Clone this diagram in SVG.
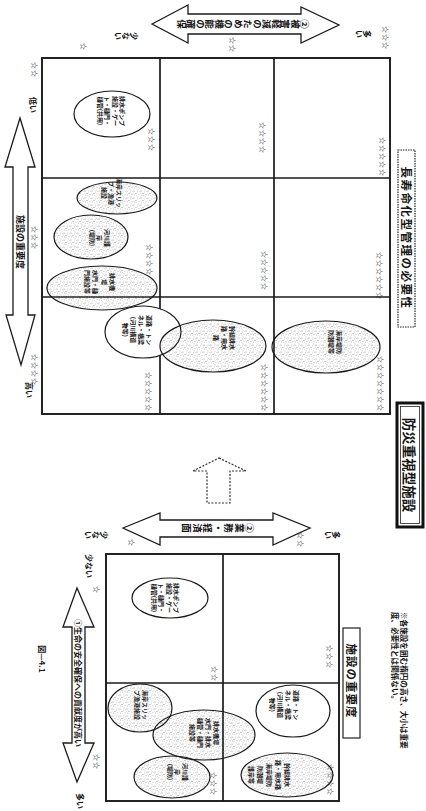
<svg xmlns="http://www.w3.org/2000/svg" width="426" height="811" viewBox="0 0 426 811">
<style>
text{font-family:"Noto Sans CJK JP","Noto Sans",sans-serif;font-weight:bold;fill:#161616}
.grid{fill:none;stroke:#1a1a1a;stroke-width:1.9}
.gl{stroke:#1a1a1a;stroke-width:1.7}
.ew{fill:#fff;stroke:none}
.es{fill:url(#stip);stroke:none}
.eo{fill:none;stroke:#1a1a1a;stroke-width:1.2}
.arr{fill:#fff;stroke:#1a1a1a;stroke-width:1.3;stroke-linejoin:miter}
.dash{fill:none;stroke:#333;stroke-width:1.2;stroke-dasharray:2 1.5}
.st{font-size:7px;letter-spacing:1px}
.et{font-size:6px}
.vr{writing-mode:vertical-rl}
</style>
<defs>
<pattern id="stip" width="7" height="7" patternUnits="userSpaceOnUse">
<circle cx="1" cy="2" r="0.5" fill="#777"/><circle cx="5" cy="1" r="0.45" fill="#888"/><circle cx="3" cy="4.5" r="0.5" fill="#777"/><circle cx="6" cy="5.5" r="0.45" fill="#888"/><circle cx="4.6" cy="3" r="0.4" fill="#999"/><circle cx="1.5" cy="6" r="0.45" fill="#888"/><circle cx="3.8" cy="6.6" r="0.35" fill="#999"/><circle cx="6.6" cy="2.3" r="0.4" fill="#999"/><circle cx="0.4" cy="4" r="0.35" fill="#999"/>
</pattern>
</defs>
<rect width="426" height="811" fill="#fff"/>

<!-- top matrix -->
<g id="top-grid">
<rect class="grid" x="42" y="58" width="348" height="356"/>
<line class="gl" x1="160" y1="58" x2="160" y2="414"/>
<line class="gl" x1="274" y1="58" x2="274" y2="414"/>
<line class="gl" x1="42" y1="178" x2="390" y2="178"/>
<line class="gl" x1="42" y1="297" x2="390" y2="297"/>
</g>

<!-- bottom matrix -->
<g id="bottom-grid">
<rect class="grid" x="106" y="554" width="233" height="247"/>
<line class="gl" x1="223" y1="554" x2="223" y2="801"/>
<line class="gl" x1="106" y1="683" x2="339" y2="683"/>
</g>

<!-- ellipse fills -->
<g id="fills">
<ellipse class="ew" cx="112" cy="114" rx="38" ry="23"/>
<ellipse class="ew" cx="143" cy="332" rx="38" ry="26"/>
<ellipse class="ew" cx="170" cy="598" rx="38" ry="20"/>
<ellipse class="ew" cx="293" cy="711" rx="37" ry="26"/>
<ellipse class="es" cx="117" cy="198" rx="40" ry="16"/>
<ellipse class="es" cx="91" cy="237" rx="37" ry="22"/>
<ellipse class="es" cx="102" cy="288" rx="55" ry="22"/>
<ellipse class="es" cx="213" cy="346" rx="53" ry="26"/>
<ellipse class="es" cx="326" cy="347" rx="54" ry="26"/>
<ellipse class="es" cx="140" cy="708" rx="32" ry="24"/>
<ellipse class="es" cx="204" cy="735" rx="51" ry="25"/>
<ellipse class="es" cx="172" cy="777" rx="38" ry="21"/>
<ellipse class="es" cx="287" cy="775" rx="46" ry="22"/>
</g>

<g id="e1"><ellipse class="eo" cx="112" cy="114" rx="38" ry="23"/>
<text class="et" transform="translate(112,111) rotate(90)" text-anchor="middle" dominant-baseline="central"><tspan x="0" dy="-11">排水ポンプ</tspan><tspan x="0" dy="7.5">施設・ゲー</tspan><tspan x="0" dy="7.5">ト・樋門・</tspan><tspan x="0" dy="7.5">樋管(共用)</tspan></text></g>
<g id="e2"><ellipse class="eo" cx="117" cy="198" rx="40" ry="16"/>
<text class="et" transform="translate(112,193) rotate(90)" text-anchor="middle" dominant-baseline="central"><tspan x="0" dy="-7.5">海岸スリッ</tspan><tspan x="0" dy="7.5">プ・漁港</tspan><tspan x="0" dy="7.5">施設</tspan></text></g>
<g id="e3"><ellipse class="eo" cx="91" cy="237" rx="37" ry="22"/>
<text class="et" transform="translate(100,238) rotate(90)" text-anchor="middle" dominant-baseline="central"><tspan x="0" dy="-7.5">河川護</tspan><tspan x="0" dy="7.5">岸</tspan><tspan x="0" dy="7.5">(堤防)</tspan></text></g>
<g id="e4"><ellipse class="eo" cx="102" cy="288" rx="55" ry="22"/>
<text class="et" transform="translate(100,282) rotate(90)" text-anchor="middle" dominant-baseline="central"><tspan x="0" dy="-13">排水機</tspan><tspan x="0" dy="8.5">場</tspan><tspan x="0" dy="8.5">水門・樋</tspan><tspan x="0" dy="8.5">門施設等</tspan></text></g>
<g id="e5"><ellipse class="eo" cx="143" cy="332" rx="38" ry="26"/>
<text class="et" transform="translate(138,330) rotate(90)" text-anchor="middle" dominant-baseline="central"><tspan x="0" dy="-12">道路・トン</tspan><tspan x="0" dy="8">ネル・橋梁</tspan><tspan x="0" dy="8">(河川構造</tspan><tspan x="0" dy="8">物等)</tspan></text></g>
<g id="e6"><ellipse class="eo" cx="213" cy="346" rx="53" ry="26"/>
<text class="et" transform="translate(225,338) rotate(90)" text-anchor="middle" dominant-baseline="central"><tspan x="0" dy="-8">幹線排水</tspan><tspan x="0" dy="8">路・用水</tspan><tspan x="0" dy="8">路</tspan></text></g>
<g id="e7"><ellipse class="eo" cx="326" cy="347" rx="54" ry="26"/>
<text class="et" transform="translate(336,342) rotate(90)" text-anchor="middle" dominant-baseline="central"><tspan x="0" dy="-4">海岸堤防</tspan><tspan x="0" dy="8">防潮堤等</tspan></text></g>

<g id="ea"><ellipse class="eo" cx="170" cy="598" rx="38" ry="20"/>
<text class="et" transform="translate(166,598) rotate(90)" text-anchor="middle" dominant-baseline="central"><tspan x="0" dy="-11">排水ポンプ</tspan><tspan x="0" dy="7.5">施設・ゲー</tspan><tspan x="0" dy="7.5">ト・樋門・</tspan><tspan x="0" dy="7.5">樋管(共用)</tspan></text></g>
<g id="eb"><ellipse class="eo" cx="140" cy="708" rx="32" ry="24"/>
<text class="et" transform="translate(142,705) rotate(90)" text-anchor="middle" dominant-baseline="central"><tspan x="0" dy="-4">海岸スリッ</tspan><tspan x="0" dy="8">プ漁港施設</tspan></text></g>
<g id="ec"><ellipse class="eo" cx="204" cy="735" rx="51" ry="25"/>
<text class="et" transform="translate(205,733) rotate(90)" text-anchor="middle" dominant-baseline="central"><tspan x="0" dy="-12">排水機場</tspan><tspan x="0" dy="8">水門・排水</tspan><tspan x="0" dy="8">樋管・樋門</tspan><tspan x="0" dy="8">施設等</tspan></text></g>
<g id="ed"><ellipse class="eo" cx="172" cy="777" rx="38" ry="21"/>
<text class="et" transform="translate(178,772) rotate(90)" text-anchor="middle" dominant-baseline="central"><tspan x="0" dy="-7.5">河川護</tspan><tspan x="0" dy="7.5">岸</tspan><tspan x="0" dy="7.5">(堤防)</tspan></text></g>
<g id="ee"><ellipse class="eo" cx="293" cy="711" rx="37" ry="26"/>
<text class="et" transform="translate(285,705) rotate(90)" text-anchor="middle" dominant-baseline="central"><tspan x="0" dy="-12">道路・トン</tspan><tspan x="0" dy="8">ネル・橋梁</tspan><tspan x="0" dy="8">(河川構造</tspan><tspan x="0" dy="8">物等)</tspan></text></g>
<g id="ef"><ellipse class="eo" cx="287" cy="775" rx="46" ry="22"/>
<text class="et" transform="translate(270,775) rotate(90)" text-anchor="middle" dominant-baseline="central"><tspan x="0" dy="-18">幹線排水</tspan><tspan x="0" dy="9">路・用水路</tspan><tspan x="0" dy="9">海岸堤防</tspan><tspan x="0" dy="9">防潮堤</tspan><tspan x="0" dy="9">護岸等</tspan></text></g>

<!-- axis arrows -->
<g id="arrow-top">
<polygon class="arr" points="152,24 188,5 188,14 301,14 301,7 339,25 301,43 301,34 188,34 188,43"/>
<text class="vr" transform="translate(243,24) rotate(90)" text-anchor="middle" style="font-size:9.5px">②被害軽減のための機能の確保</text>
</g>
<g id="arrow-left">
<polygon class="arr" points="20,118 35,167 28,167 28,315 35,315 21,365 6,315 13,315 13,167 5,167"/>
<text transform="translate(20,242) rotate(90)" text-anchor="middle" dominant-baseline="central" style="font-size:9px">施設の重要度</text>
</g>
<g id="arrow-bottom-h">
<polygon class="arr" points="123,528 160,513 160,520 273,520 273,513 310,528 273,545 273,537 160,537 160,545"/>
<text class="vr" transform="translate(218,528) rotate(90)" text-anchor="middle" style="font-size:9.5px;letter-spacing:1px">②業務・経済面</text>
</g>
<g id="arrow-bottom-v">
<polygon class="arr" points="77,588 94,627 85,627 85,743 94,743 77,782 63,743 72,743 72,627 63,627"/>
<text transform="translate(78,683) rotate(90)" text-anchor="middle" dominant-baseline="central" style="font-size:8px">①生命の安全確保への貢献度が高い</text>
</g>

<!-- connector: dotted transition arrow -->
<g id="connectors">
<polygon class="dash" points="219,458 246,471 230,471 230,503 207,503 207,471 193,471"/>
</g>

<!-- title boxes -->
<g id="box-longlife">
<rect x="398" y="150" width="17" height="177" fill="#fff" stroke="#222" stroke-width="1.2" stroke-dasharray="1.5 1"/>
<text transform="translate(406.5,238) rotate(90)" text-anchor="middle" dominant-baseline="central" style="font-size:11.5px;letter-spacing:1.5px">長寿命化型管理の必要性</text>
</g>
<g id="box-disaster">
<rect x="397" y="403" width="26" height="124" fill="#fff" stroke="#111" stroke-width="3"/>
<rect x="400.5" y="406.5" width="19" height="117" fill="none" stroke="#222" stroke-width="0.8"/>
<text transform="translate(410,465) rotate(90)" text-anchor="middle" dominant-baseline="central" style="font-size:13.5px">防災重視型施設</text>
</g>
<g id="box-importance">
<rect x="343" y="628" width="17" height="110" fill="#fff" stroke="#222" stroke-width="1.2"/>
<text transform="translate(351.5,681) rotate(90)" text-anchor="middle" dominant-baseline="central" style="font-size:11.5px;letter-spacing:1px">施設の重要度</text>
</g>
<g id="note">
<text transform="translate(405,612) rotate(90)" dominant-baseline="central" style="font-size:7.6px"><tspan x="0" dy="0">※各施設を囲む楕円の高さ、大小は重要</tspan><tspan x="0" dy="9">度、必要性とは関係ない。</tspan></text>
</g>
<g id="caption">
<text transform="translate(42,659) rotate(90)" text-anchor="middle" dominant-baseline="central" style="font-size:8px">図—4.1</text>
</g>

<!-- axis end labels -->
<g id="labels">
<text class="vr" transform="translate(126,36) rotate(90)" text-anchor="middle" style="font-size:8px">少ない</text>
<text class="vr" transform="translate(363,34) rotate(90)" text-anchor="middle" style="font-size:8px">多い</text>
<text class="vr" transform="translate(96,535) rotate(90)" text-anchor="middle" style="font-size:8px">少ない</text>
<text class="vr" transform="translate(332,535) rotate(90)" text-anchor="middle" style="font-size:8px">多い</text>
<text transform="translate(33,105) rotate(90)" text-anchor="middle" dominant-baseline="central" style="font-size:8px">低い</text>
<text transform="translate(29,390) rotate(90)" text-anchor="middle" dominant-baseline="central" style="font-size:8px">高い</text>
<text transform="translate(89,566) rotate(90)" text-anchor="middle" dominant-baseline="central" style="font-size:8px">少ない</text>
<text transform="translate(80,793) rotate(90)" dominant-baseline="central" style="font-size:8px">多い</text>
</g>

<!-- star ratings -->
<g id="stars">
<text class="st" transform="translate(152,152) rotate(90)" text-anchor="end" dominant-baseline="central">☆☆☆</text>
<text class="st" transform="translate(263,154) rotate(90)" text-anchor="end" dominant-baseline="central">☆☆☆☆</text>
<text class="st" transform="translate(383,177) rotate(90)" text-anchor="end" dominant-baseline="central">☆☆☆☆☆</text>
<text class="st" transform="translate(150,276) rotate(90)" text-anchor="end" dominant-baseline="central">☆☆☆☆</text>
<text class="st" transform="translate(265,291) rotate(90)" text-anchor="end" dominant-baseline="central">☆☆☆☆☆</text>
<text class="st" transform="translate(380,300) rotate(90)" text-anchor="end" dominant-baseline="central">☆☆☆☆☆☆</text>
<text class="st" transform="translate(149,412) rotate(90)" text-anchor="end" dominant-baseline="central">☆☆☆☆☆</text>
<text class="st" transform="translate(265,412) rotate(90)" text-anchor="end" dominant-baseline="central">☆☆☆☆☆☆</text>
<text class="st" transform="translate(381,412) rotate(90)" text-anchor="end" dominant-baseline="central">☆☆☆☆☆☆☆</text>
<text class="st" transform="translate(35,70) rotate(90)" text-anchor="middle" dominant-baseline="central">☆☆</text>
<text class="st" transform="translate(35,238) rotate(90)" text-anchor="middle" dominant-baseline="central">☆☆☆</text>
<text class="st" transform="translate(35,370) rotate(90)" text-anchor="middle" dominant-baseline="central">☆☆☆☆</text>
<text class="st" transform="translate(84,47) rotate(90)" text-anchor="middle" dominant-baseline="central">☆</text>
<text class="st" transform="translate(233,45) rotate(90)" text-anchor="middle" dominant-baseline="central">☆☆</text>
<text class="st" transform="translate(386,38) rotate(90)" text-anchor="middle" dominant-baseline="central">☆☆☆</text>
<text class="st" transform="translate(215,674) rotate(90)" text-anchor="middle" dominant-baseline="central">☆☆</text>
<text class="st" transform="translate(330,657) rotate(90)" text-anchor="middle" dominant-baseline="central">☆☆☆</text>
<text class="st" transform="translate(214,784) rotate(90)" text-anchor="middle" dominant-baseline="central">☆☆☆</text>
<text class="st" transform="translate(331,780) rotate(90)" text-anchor="middle" dominant-baseline="central">☆☆☆☆</text>
<text class="st" transform="translate(132,543) rotate(90)" text-anchor="middle" dominant-baseline="central">☆</text>
<text class="st" transform="translate(97,590) rotate(90)" text-anchor="middle" dominant-baseline="central">☆</text>
<text class="st" transform="translate(97,762) rotate(90)" text-anchor="middle" dominant-baseline="central">☆☆</text>
<text class="st" transform="translate(301,540) rotate(90)" text-anchor="middle" dominant-baseline="central">☆☆</text>
</g>
</svg>
